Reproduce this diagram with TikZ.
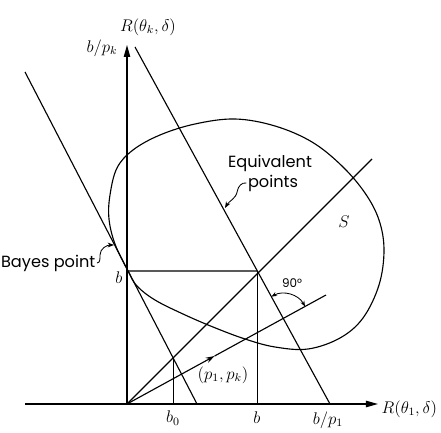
\documentclass[tikz,border=0pt]{standalone}
\usepackage{fontspec}
\setmainfont{Poppins}
\usetikzlibrary{arrows.meta, calc}

\begin{document}
\begin{tikzpicture}[
    x=0.025cm, y=0.025cm,
    font=\fontsize{11.5}{13}\selectfont,
    axis/.style={line width=0.8pt, -{Triangle[length=3mm, width=1.6mm]}},
    ln/.style={line width=0.8pt},
    lead/.style={line width=0.6pt, -{Stealth[length=1.6mm, width=1.2mm]}},
    rt/.style={line width=0.6pt, {Stealth[length=1.4mm]}-{Stealth[length=1.4mm]}},
    lbl/.style={inner sep=1pt},
  ]
  \useasboundingbox (-127,-29) rectangle (314,404);

  % axes
  \coordinate (O) at (0,0);
  \coordinate (xl) at (-102,0);
  \coordinate (xr) at (251,0);
  \coordinate (yt) at (0,359);
  \draw[axis] (xl) -- (xr);
  \draw[axis] (O) -- (yt);

  % the two parallel lines and the rays from the origin
  \coordinate (B)  at (1,133);
  \coordinate (T1) at (-102,332);
  \coordinate (T2) at (70,0);
  \coordinate (L1) at (8,357);
  \coordinate (L2) at (203,0);
  \coordinate (D)  at (245,245);
  \coordinate (P)  at (199,109);
  \coordinate (Bx) at (220,133);
  \coordinate (E)  at (intersection of L1--L2 and B--Bx);
  \coordinate (M)  at (intersection of O--D and T1--T2);
  \coordinate (Q)  at (intersection of O--P and L1--L2);
  \coordinate (Pm) at ($(O)!0.44!(P)$);

  \draw[ln] (T1) -- (T2);
  \draw[ln] (L1) -- (L2);
  \draw[ln] (O) -- (D);
  \draw[ln, -{Stealth[length=2.2mm, width=1.4mm]}] (O) -- (Pm);
  \draw[ln] (Pm) -- (P);
  \draw[ln] (B) -- (E);
  \draw[ln] (E) -- (E |- O);
  \draw[ln] (M) -- (M |- O);

  % the risk set S
  \draw[ln] plot[smooth cycle, tension=0.6] coordinates {
    (1,133) (10,118) (28,104) (56,90) (86,77) (118,65) (148,57) (181,55)
    (213,66) (236,86) (252,119) (257,154) (252,184) (238,211)
    (215,238) (185,262) (148,278) (108,285) (68,280) (33,269)
    (6,254) (-10,236) (-17,209) (-18,185) (-12,160)};

  % right angle mark
  \coordinate (A1) at ($(Q)!0.62cm!(L1)$);
  \coordinate (A2) at ($(Q)!0.62cm!(P)$);
  \draw[rt] (A1) to[bend left=45] (A2);
  \node[lbl, font=\fontsize{8.5}{10}\selectfont] (rang) at (165,121) {90°};

  % labels
  \node[lbl] (ylab) at (21,377) {$R(\theta_k,\delta)$};
  \node[lbl, anchor=west] (xlab) at (253,-5) {$R(\theta_1,\delta)$};
  \node[lbl] (bpk) at (-25,356) {$b/p_k$};
  \node[lbl] (bb)  at (-8,126) {$b$};
  \node[lbl] (bz)  at (46,-14) {$b_0$};
  \node[lbl] (bE)  at (130,-14) {$b$};
  \node[lbl] (bp1) at (201,-16) {$b/p_1$};
  \node[lbl] (pvec) at (96,29) {$(p_1,p_k)$};
  \node[lbl] (Slab) at (217,182) {$S$};

  \node[lbl, anchor=east] (bayes) at (-30,141) {Bayes point};
  \coordinate (btip) at (-13,159);
  \draw[lead] (bayes.east) to[out=0,in=-90] ++(3,8) to[out=90,in=180] (btip);

  \node[lbl] (eqv) at (143,241) {Equivalent};
  \node[lbl] (eqp) at (146,221) {points};
  \coordinate (etip) at (98,196);
  \draw[lead] (eqp.west) to[out=170,in=80] ++(-9,-8)
    to[out=-100,in=60] (etip);
\end{tikzpicture}
\end{document}
